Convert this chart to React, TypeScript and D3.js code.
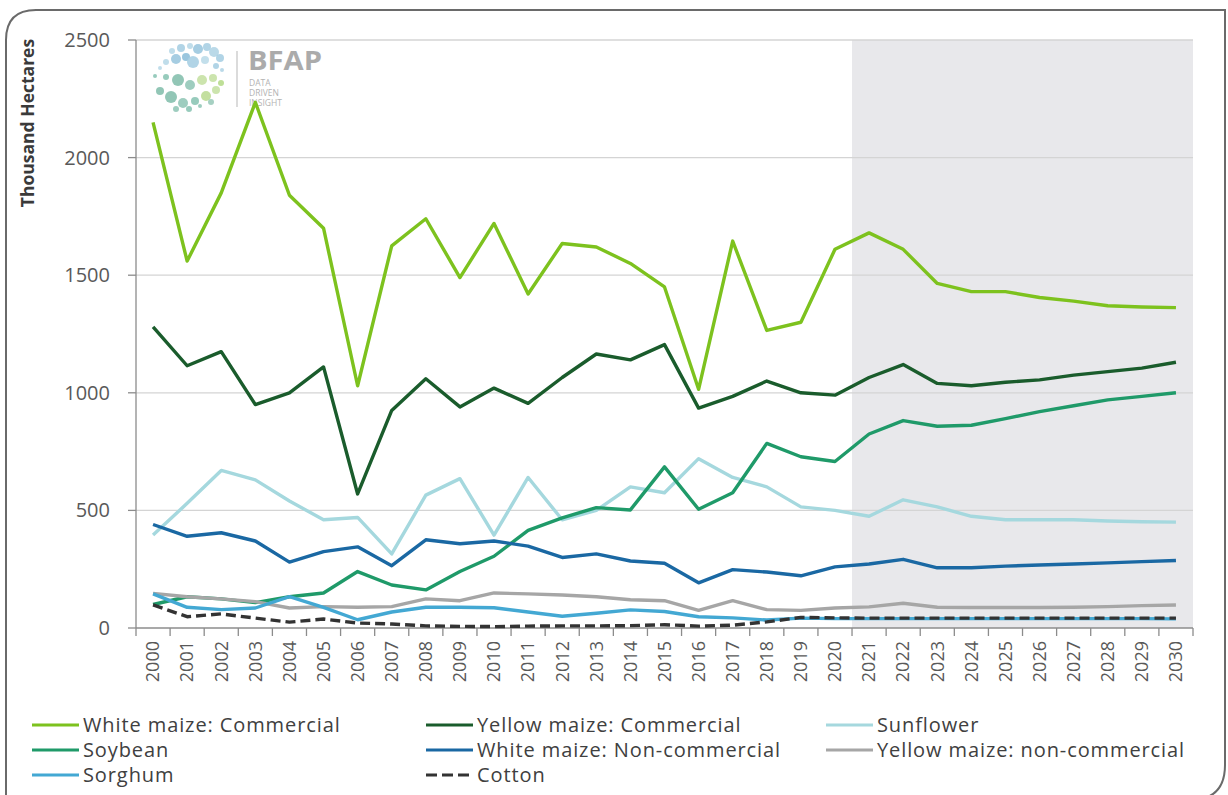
import React from 'react';
import * as d3 from 'd3';

const years = [2000, 2001, 2002, 2003, 2004, 2005, 2006, 2007, 2008, 2009, 2010, 2011, 2012, 2013, 2014, 2015, 2016, 2017, 2018, 2019, 2020, 2021, 2022, 2023, 2024, 2025, 2026, 2027, 2028, 2029, 2030];
const yTicks = [0, 500, 1000, 1500, 2000, 2500];
const forecastStart = 2021;

const whiteMaizeCommercial = [2150, 1560, 1850, 2235, 1840, 1700, 1030, 1625, 1740, 1490, 1720, 1420, 1635, 1620, 1550, 1450, 1015, 1645, 1265, 1300, 1610, 1680, 1610, 1465, 1430, 1430, 1405, 1390, 1370, 1365, 1362];
const yellowMaizeCommercial = [1280, 1115, 1175, 950, 1000, 1110, 570, 925, 1060, 940, 1020, 955, 1065, 1165, 1140, 1205, 935, 985, 1050, 1000, 990, 1065, 1120, 1040, 1030, 1045, 1055, 1075, 1090, 1105, 1130];
const sunflower = [395, 530, 670, 630, 540, 460, 470, 315, 565, 635, 395, 640, 460, 500, 600, 575, 720, 640, 600, 515, 500, 475, 545, 515, 475, 460, 460, 460, 455, 452, 450];
const soybean = [100, 133, 124, 108, 133, 149, 240, 183, 162, 240, 305, 415, 468, 512, 502, 685, 505, 575, 785, 728, 708, 825, 882, 858, 862, 890, 920, 945, 970, 985, 1000];
const whiteMaizeNonCommercial = [440, 390, 405, 370, 280, 325, 345, 265, 375, 358, 370, 348, 300, 315, 285, 275, 192, 248, 238, 222, 260, 272, 292, 256, 256, 263, 268, 272, 277, 282, 287];
const yellowMaizeNonCommercial = [147, 133, 124, 112, 85, 91, 88, 91, 124, 116, 149, 145, 140, 133, 120, 116, 75, 116, 78, 75, 85, 90, 105, 88, 87, 87, 87, 88, 91, 95, 98];
const sorghum = [145, 88, 78, 85, 133, 88, 35, 68, 88, 88, 86, 68, 50, 63, 77, 70, 48, 43, 34, 42, 40, 40, 40, 40, 40, 40, 40, 40, 40, 40, 39];
const cotton = [98, 48, 60, 42, 25, 38, 21, 17, 9, 7, 6, 8, 9, 9, 10, 14, 8, 12, 26, 45, 43, 42, 42, 42, 42, 42, 42, 42, 42, 42, 42];

const seriesNames = ['White maize: Commercial', 'Yellow maize: Commercial', 'Sunflower', 'Soybean', 'White maize: Non-commercial', 'Yellow maize: non-commercial', 'Sorghum', 'Cotton'];
const seriesValues = [whiteMaizeCommercial, yellowMaizeCommercial, sunflower, soybean, whiteMaizeNonCommercial, yellowMaizeNonCommercial, sorghum, cotton];
const seriesColors = ['#7dc21e', '#1a5c2c', '#a5d8de', '#1f9a69', '#1a68a3', '#a6a6a6', '#43a8d3', '#333333'];
const seriesDash = [null, null, null, null, null, null, null, '10,5'];

// decorative logo bubbles: [x, y, r, colour]
const logoBubbles: [number, number, number, string][] = [
  [172, 51, 3, '#b9d9e8'], [181, 48, 4, '#a8cfe3'], [190, 46, 3, '#b9d9e8'], [198, 49, 5, '#9cc8df'],
  [207, 47, 4, '#a8cfe3'], [214, 52, 5, '#b3d5e6'], [220, 58, 4, '#a8cfe3'], [176, 59, 5, '#9cc8df'],
  [186, 57, 4, '#8fc0da'], [166, 62, 3, '#b9d9e8'], [160, 68, 2, '#b9d9e8'], [193, 62, 6, '#a8cfe3'],
  [205, 60, 4, '#bcdbe9'], [216, 66, 3, '#a8cfe3'], [222, 70, 2, '#b3d5e6'],
  [155, 76, 2, '#8cc5b5'], [166, 77, 3, '#8cc5b5'], [178, 80, 6, '#86c0ae'], [190, 85, 5, '#93c8b8'],
  [202, 80, 5, '#c6e1a4'], [213, 78, 4, '#c6e1a4'], [221, 83, 3, '#b7db8c'],
  [160, 91, 4, '#86c0ae'], [171, 97, 6, '#86c0ae'], [183, 103, 5, '#93c8b8'], [195, 101, 4, '#8cc5b5'],
  [206, 96, 5, '#bcdc95'], [216, 90, 4, '#c6e1a4'], [176, 109, 3, '#93c8b8'], [189, 109, 3, '#8cc5b5'],
  [200, 106, 2, '#93c8b8'], [211, 102, 3, '#9ccbbb'],
];

const legendCols = [32, 426, 826];
const legendRows = [725, 750, 775];

export default function App() {
  const left = 136, right = 1193, top = 40, bottom = 628;
  const x = d3.scaleBand<number>().domain(years).range([left, right]);
  const y = d3.scaleLinear().domain([0, 2500]).range([bottom, top]);
  const cx = (yr: number) => (x(yr) as number) + x.bandwidth() / 2;
  const lineGen = d3.line<number>().x((_, i) => cx(years[i])).y(d => y(d));
  const font = "'Open Sans', 'Noto Sans', sans-serif";
  const tickPositions = years.map(yr => x(yr) as number).concat([right]);

  return (
    <svg width={1228} height={795} style={{ position: 'absolute', left: 0, top: 0, background: '#fff' }} fontFamily={font}>
      <rect x={0} y={0} width={1228} height={795} fill="#fff" />
      {/* forecast shading */}
      <rect x={x(forecastStart) as number} y={top} width={right - (x(forecastStart) as number)} height={bottom - top} fill="#e8e8eb" />
      {/* grid */}
      {yTicks.filter(t => t > 0).map(t => (
        <line key={t} x1={left} x2={right} y1={y(t)} y2={y(t)} stroke="#d4d4d4" strokeWidth={1.3} />
      ))}
      {/* logo */}
      <g>
        {logoBubbles.map((b, i) => (
          <circle key={i} cx={b[0]} cy={b[1]} r={b[2]} fill={b[3]} opacity={0.9} />
        ))}
        <line x1={237} x2={237} y1={51} y2={107} stroke="#cfcfcf" strokeWidth={1.5} />
        <text x={248} y={70} fontSize={26} fontWeight={700} fill="#ababab" textLength={74} lengthAdjust="spacingAndGlyphs">BFAP</text>
        <text x={249} y={86} fontSize={8.5} fill="#b3b3b3">DATA</text>
        <text x={249} y={96} fontSize={8.5} fill="#b3b3b3">DRIVEN</text>
        <text x={249} y={106} fontSize={8.5} fill="#b3b3b3">INSIGHT</text>
      </g>
      {/* y axis */}
      <line x1={left} x2={left} y1={top} y2={bottom} stroke="#8c8c8c" strokeWidth={1.3} />
      {yTicks.map(t => (
        <g key={t}>
          <line x1={left - 8} x2={left} y1={y(t)} y2={y(t)} stroke="#8c8c8c" strokeWidth={1.3} />
          <text x={110} y={y(t)} dy="0.35em" textAnchor="end" fontSize={20} fill="#595959">{t}</text>
        </g>
      ))}
      <text transform={`translate(34,123) rotate(-90)`} textAnchor="middle" fontSize={17.5} fontWeight={700} fill="#3a3a3a">Thousand Hectares</text>
      {/* x axis */}
      <line x1={left} x2={right} y1={bottom} y2={bottom} stroke="#8c8c8c" strokeWidth={1.3} />
      {tickPositions.map((p, i) => (
        <line key={i} x1={p} x2={p} y1={bottom} y2={bottom + 8} stroke="#8c8c8c" strokeWidth={1.3} />
      ))}
      {years.map(yr => (
        <text key={yr} transform={`translate(${cx(yr)},${bottom + 13}) rotate(-90)`} textAnchor="end" dy="0.35em" fontSize={18} fill="#595959">{yr}</text>
      ))}
      {/* series */}
      {seriesValues.map((vals, i) => (
        <path key={i} d={lineGen(vals) || ''} fill="none" stroke={seriesColors[i]} strokeWidth={3.4}
          strokeDasharray={seriesDash[i] || undefined} strokeLinejoin="round" />
      ))}
      {/* legend */}
      {seriesNames.map((name, i) => {
        const lx = legendCols[i % 3];
        const ly = legendRows[Math.floor(i / 3)];
        return (
          <g key={name}>
            <line x1={lx} x2={lx + 47} y1={ly} y2={ly} stroke={seriesColors[i]} strokeWidth={3.2}
              strokeDasharray={seriesDash[i] ? '11,5' : undefined} />
            <text x={lx + 51} y={ly} dy="0.35em" fontSize={20} letterSpacing={0.9} fill="#404040">{name}</text>
          </g>
        );
      })}
      {/* frame */}
      <path d="M6,800 V40 Q6,10 36,10 H1225 V765 Q1225,800 1190,800" fill="none" stroke="#6a6a6a" strokeWidth={2} />
    </svg>
  );
}
